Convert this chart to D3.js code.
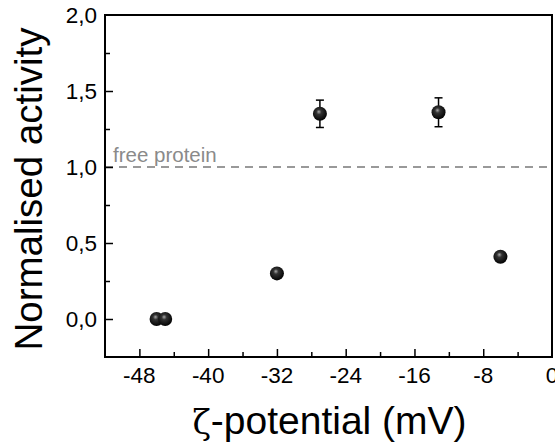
<!DOCTYPE html>
<html>
<head>
<meta charset="utf-8">
<script src="https://cdn.jsdelivr.net/npm/d3@7"></script>
<style>
  html, body { margin: 0; padding: 0; background: #fff; }
  svg { display: block; }
  text { font-family: Arial, "Liberation Sans", sans-serif; }
</style>
</head>
<body>
<svg id="chart" width="555" height="444"></svg>
<script>
// Zeta potential (mV) vs normalised enzyme activity
const zeta      = [-46, -45, -32, -27, -13.2, -6];
const activity  = [0.0, 0.0, 0.30, 1.35, 1.36, 0.41];
const errors    = [0, 0, 0, 0.09, 0.095, 0];
const xTicks    = [-48, -40, -32, -24, -16, -8, 0];
const yTicks    = [0.0, 0.5, 1.0, 1.5, 2.0];
const reference = 1.0;

const margin = { left: 105, top: 15, right: 3, bottom: 87 };
const W = 555, H = 444;
const svg = d3.select("#chart");

const x = d3.scaleLinear().domain([-52, 0]).range([margin.left, W - margin.right]);
const y = d3.scaleLinear().domain([-0.25, 2.0]).range([H - margin.bottom, margin.top]);

const fmt = d => d3.format(".1f")(d).replace(".", ",");

// gradient for the shaded spheres
const defs = svg.append("defs");
const grad = defs.append("radialGradient").attr("id", "sphere")
  .attr("cx", "0.45").attr("cy", "0.42").attr("r", "0.6")
  .attr("fx", "0.42").attr("fy", "0.35");
grad.append("stop").attr("offset", "0%").attr("stop-color", "#a8a8a8");
grad.append("stop").attr("offset", "30%").attr("stop-color", "#333");
grad.append("stop").attr("offset", "100%").attr("stop-color", "#000");

// reference line (free protein)
svg.append("line")
  .attr("x1", x(-52)).attr("x2", x(0))
  .attr("y1", y(reference)).attr("y2", y(reference))
  .attr("stroke", "#999").attr("stroke-width", 1.8)
  .attr("stroke-dasharray", "8,6");
svg.append("text")
  .attr("x", x(-52) + 8).attr("y", y(reference) - 5)
  .attr("font-size", 20.5).attr("fill", "#8a8a8a")
  .text("free protein");

// axes: inward ticks, labels outside
const xAxis = svg.append("g").attr("transform", `translate(0,${y(-0.25)})`);
xAxis.call(d3.axisBottom(x).tickValues(d3.range(-52, 0.1, 4)).tickSize(-5).tickFormat(""));
xAxis.call(g => g.selectAll(".tick line").filter(d => xTicks.includes(d)).attr("y2", -8));
xAxis.selectAll(".domain").remove();
xAxis.selectAll(".tick line").attr("stroke", "#000").attr("stroke-width", 1.5)
  .filter(d => d === -52 || d === 0).remove();

svg.append("g").selectAll("text").data(xTicks).join("text")
  .attr("x", d => x(d)).attr("y", y(-0.25) + 26)
  .attr("text-anchor", "middle").attr("font-size", 22.5).attr("fill", "#000")
  .text(d => d);

const yAxis = svg.append("g").attr("transform", `translate(${x(-52)},0)`);
yAxis.call(d3.axisLeft(y).tickValues(d3.range(0, 2.01, 0.25)).tickSize(-5).tickFormat(""));
yAxis.selectAll(".domain").remove();
yAxis.selectAll(".tick line").attr("stroke", "#000").attr("stroke-width", 1.5)
  .filter(d => yTicks.some(t => Math.abs(t - d) < 1e-9)).attr("x2", 8);
yAxis.selectAll(".tick line").filter(d => Math.abs(d - 2) < 1e-9).remove();

svg.append("g").selectAll("text").data(yTicks).join("text")
  .attr("x", x(-52) - 8).attr("y", d => y(d) + 8)
  .attr("text-anchor", "end").attr("font-size", 22.5).attr("fill", "#000")
  .text(fmt);

// frame
svg.append("rect")
  .attr("x", x(-52)).attr("y", y(2.0))
  .attr("width", x(0) - x(-52)).attr("height", y(-0.25) - y(2.0))
  .attr("fill", "none").attr("stroke", "#000").attr("stroke-width", 2);

// error bars
const pts = zeta.map((z, i) => ({ z, a: activity[i], e: errors[i] }));
const eb = svg.append("g").selectAll("g").data(pts.filter(p => p.e > 0)).join("g")
  .attr("stroke", "#000").attr("stroke-width", 1.5);
eb.append("line").attr("x1", p => x(p.z)).attr("x2", p => x(p.z))
  .attr("y1", p => y(p.a - p.e)).attr("y2", p => y(p.a + p.e));
eb.append("line").attr("x1", p => x(p.z) - 4).attr("x2", p => x(p.z) + 4)
  .attr("y1", p => y(p.a + p.e)).attr("y2", p => y(p.a + p.e));
eb.append("line").attr("x1", p => x(p.z) - 4).attr("x2", p => x(p.z) + 4)
  .attr("y1", p => y(p.a - p.e)).attr("y2", p => y(p.a - p.e));

// points
svg.append("g").selectAll("circle").data(pts).join("circle")
  .attr("cx", p => x(p.z)).attr("cy", p => y(p.a)).attr("r", 7)
  .attr("fill", "url(#sphere)");

// axis titles
svg.append("text")
  .attr("x", (x(-52) + x(0)) / 2 + 1).attr("y", 434)
  .attr("text-anchor", "middle").attr("font-size", 39).attr("fill", "#000")
  .call(t => {
    t.append("tspan").attr("font-family", "'DejaVu Serif', 'Liberation Serif', serif")
      .attr("font-size", 34).text("ζ");
    t.append("tspan").text("-potential (mV)");
  });

svg.append("text")
  .attr("transform", `translate(42,189) rotate(-90)`)
  .attr("text-anchor", "middle").attr("font-size", 38.5).attr("fill", "#000")
  .text("Normalised activity");
</script>
</body>
</html>
